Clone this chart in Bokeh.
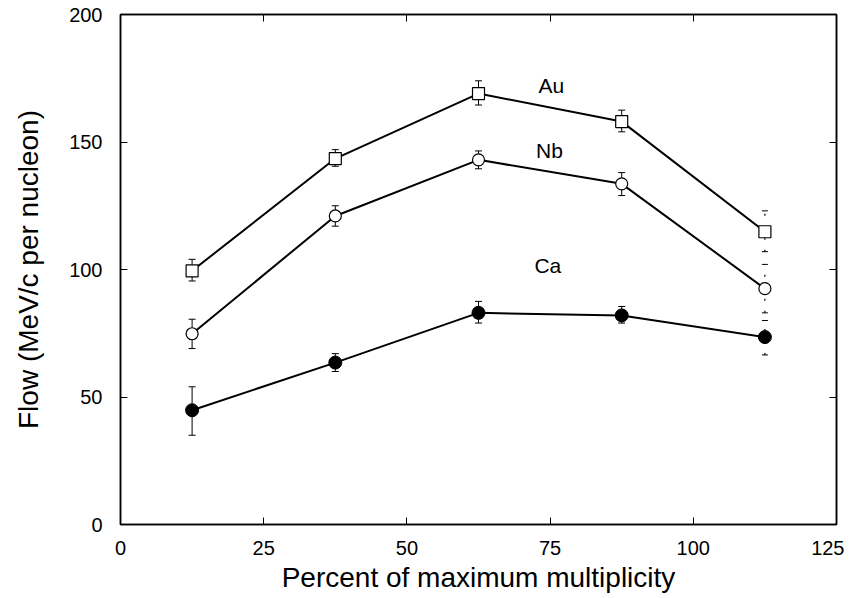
from bokeh.plotting import figure
from bokeh.models import Range1d, LinearAxis, Whisker, TeeHead, ColumnDataSource, FixedTicker, Label
from bokeh.embed import file_html
from bokeh.resources import INLINE

x = [12.5, 37.5, 62.5, 87.5, 112.5]
au = [99.5, 143.5, 169.0, 158.0, 114.8]
au_err_lo = [95.5, 140.5, 164.5, 154.0, 107.0]
au_err_hi = [104.0, 147.0, 174.0, 162.5, 123.0]
nb = [74.8, 121.0, 143.0, 133.6, 92.5]
nb_err_lo = [69.0, 117.0, 139.5, 129.0, 83.0]
nb_err_hi = [80.5, 125.0, 146.5, 138.0, 102.0]
ca = [44.8, 63.5, 83.0, 82.0, 73.5]
ca_err_lo = [35.0, 60.0, 79.0, 79.0, 66.5]
ca_err_hi = [54.0, 67.0, 87.5, 85.5, 80.0]
x_ticks = [0, 25, 50, 75, 100, 125]
y_ticks = [0, 50, 100, 150, 200]
series_labels = ["Au", "Nb", "Ca"]
label_x = [75.2, 74.9, 74.6]
label_y = [172.0, 146.6, 101.4]

FONT = "Liberation Sans"

p = figure(width=844, height=596, output_backend="svg", toolbar_location=None,
           x_range=Range1d(0, 125), y_range=Range1d(0, 200),
           min_border_left=120, min_border_right=8, min_border_top=14, min_border_bottom=72)
p.grid.visible = False
p.outline_line_color = "black"
p.outline_line_width = 1.5
p.background_fill_color = "white"
p.border_fill_color = "white"

for ax in [p.xaxis[0], p.yaxis[0]]:
    ax.major_tick_in = 7
    ax.major_tick_out = 0
    ax.minor_tick_line_color = None
    ax.axis_line_width = 1.5
    ax.major_label_text_font = FONT
    ax.major_label_text_font_size = "20px"
    ax.major_label_text_color = "black"
    ax.axis_label_text_font = FONT
    ax.axis_label_text_font_size = "28px"
    ax.axis_label_text_font_style = "normal"
    ax.axis_label_text_color = "black"

p.xaxis[0].ticker = FixedTicker(ticks=x_ticks)
p.yaxis[0].ticker = FixedTicker(ticks=y_ticks)
p.xaxis[0].axis_label = "Percent of maximum multiplicity"
p.yaxis[0].axis_label = "Flow (MeV/c per nucleon)"
p.xaxis[0].major_label_standoff = 16
p.xaxis[0].axis_label_standoff = 4
p.yaxis[0].major_label_standoff = 18
p.yaxis[0].axis_label_standoff = 22

for loc, ticks in [("above", x_ticks), ("right", y_ticks)]:
    a = LinearAxis(ticker=FixedTicker(ticks=ticks), major_label_text_color=None,
                   major_label_text_font_size="1px",
                   major_tick_in=7, major_tick_out=0, minor_tick_line_color=None,
                   axis_line_width=1.5, major_label_standoff=0)
    p.add_layout(a, loc)

def errs(lo, hi):
    solid = ColumnDataSource(dict(x=x[:4], lo=lo[:4], hi=hi[:4]))
    dotted = ColumnDataSource(dict(x=x[4:], lo=lo[4:], hi=hi[4:]))
    p.add_layout(Whisker(base="x", lower="lo", upper="hi", source=solid,
                         line_width=1, line_color="black",
                         upper_head=TeeHead(size=7, line_width=1),
                         lower_head=TeeHead(size=7, line_width=1)))
    p.add_layout(Whisker(base="x", lower="lo", upper="hi", source=dotted,
                         line_width=1.2, line_color="black", line_dash="2 10",
                         upper_head=TeeHead(size=6, line_width=1),
                         lower_head=TeeHead(size=6, line_width=1)))

errs(au_err_lo, au_err_hi)
errs(nb_err_lo, nb_err_hi)
errs(ca_err_lo, ca_err_hi)

p.line(x, au, line_color="black", line_width=2)
p.line(x, nb, line_color="black", line_width=2)
p.line(x, ca, line_color="black", line_width=2)

p.scatter(x, au, marker="square", size=12, fill_color="white", line_color="black", line_width=1.2)
p.scatter(x, nb, marker="circle", size=12, fill_color="white", line_color="black", line_width=1.2)
p.scatter(x, ca, marker="circle", size=13, fill_color="black", line_color="black")

for txt, lx, ly in zip(series_labels, label_x, label_y):
    p.add_layout(Label(x=lx, y=ly, text=txt, text_font=FONT, text_font_size="21px",
                       text_align="center", text_baseline="middle", text_color="black"))

open("out.html", "w").write(file_html(p, INLINE))
